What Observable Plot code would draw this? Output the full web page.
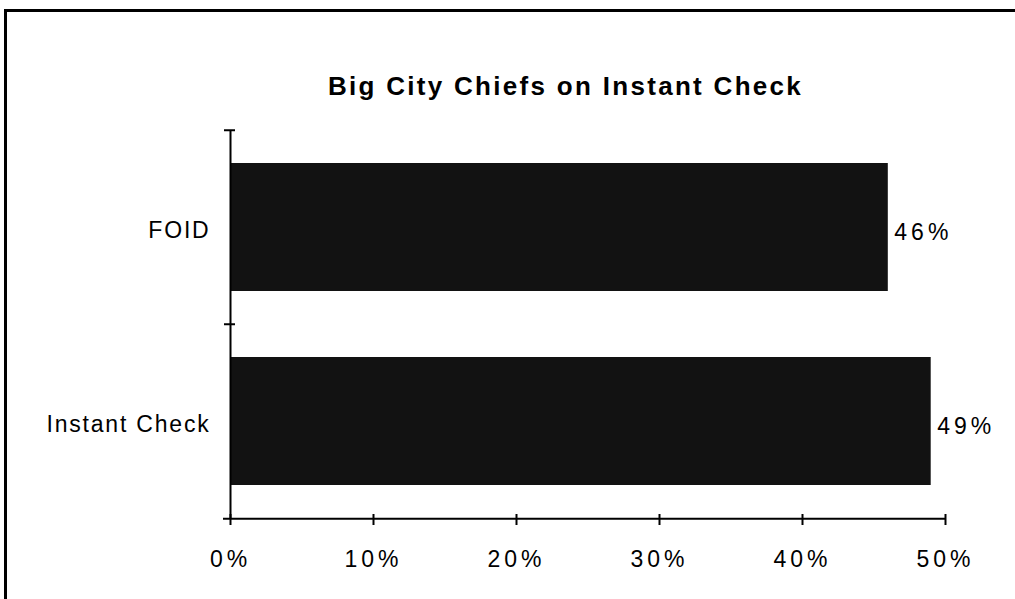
<!DOCTYPE html>
<html>
<head>
<meta charset="utf-8">
<script src="https://cdn.jsdelivr.net/npm/d3@7"></script>
<script src="https://cdn.jsdelivr.net/npm/@observablehq/plot@0.6"></script>
<style>
  html, body { margin: 0; padding: 0; background: #fff; overflow: hidden; }
  #wrap { position: relative; width: 1015px; height: 599px; overflow: hidden; }
  #border { position: absolute; left: 4px; top: 9px; width: 2000px; height: 2000px; border: 3px solid #000; box-sizing: border-box; }
  #title { position: absolute; left: 0; width: 1131px; top: 71px; text-align: center; line-height: 26px;
           font: bold 26px "Liberation Sans", Arial, sans-serif; letter-spacing: 2.3px; color: #000; }
  #chart { position: absolute; left: 0; top: 0; }
  #chart svg { background: transparent; }
  g[aria-label="x-axis tick label"] text,
  g[aria-label="text"] text { letter-spacing: 4px; }
  g[aria-label="y-axis tick label"] text { letter-spacing: 1.8px; }
</style>
</head>
<body>
<div id="wrap">
  <div id="border"></div>
  <div id="title">Big City Chiefs on Instant Check</div>
  <div id="chart"></div>
</div>
<script>
const categories = ["FOID", "Instant Check"];
const values = [0.46, 0.49];
const xTicks = [0, 0.1, 0.2, 0.3, 0.4, 0.5];

const data = categories.map((c, i) => ({category: c, value: values[i]}));

const W = 1015, H = 599, mT = 130, mB = 80, mL = 230, mR = 70;
const frameH = H - mT - mB;
const step = frameH / categories.length;
const fmt = d => `${Math.round(d * 100)}%`;

const chart = Plot.plot({
  width: W,
  height: H,
  marginTop: mT,
  marginBottom: mB,
  marginLeft: mL,
  marginRight: mR,
  style: {background: "transparent", fontFamily: "'Liberation Sans', Arial, sans-serif", color: "#000"},
  x: {domain: [0, 0.5], axis: null},
  y: {domain: categories, paddingInner: 0.34, paddingOuter: 0.17, axis: null},
  marks: [
    Plot.barX(data, {x: "value", y: "category", fill: "#121212"}),
    // y axis line
    Plot.ruleX([0], {stroke: "#000", strokeWidth: 2}),
    // x axis line (bottom edge of last band step)
    Plot.ruleY([categories[categories.length - 1]], {y: d => d, dy: step / 2, stroke: "#000", strokeWidth: 2, insetLeft: -7}),
    // y boundary ticks
    Plot.tickY(categories, {y: d => d, dy: -step / 2, stroke: "#000", strokeWidth: 2, insetLeft: -6, insetRight: (W - mL - mR) - 5}),
    // x ticks crossing the axis
    Plot.tickX(xTicks, {x: d => d, stroke: "#000", strokeWidth: 2, insetTop: frameH - 5, insetBottom: -6}),
    Plot.axisX({ticks: xTicks, tickSize: 0, tickPadding: 31, tickFormat: fmt, fontSize: 23, fill: "#000", label: null}),
    Plot.axisY({tickSize: 0, tickPadding: 20, fontSize: 23, dy: 3, fill: "#000", label: null}),
    Plot.text(data, {x: "value", y: "category", text: d => fmt(d.value), textAnchor: "start", dx: 6, dy: 5, fontSize: 23, fill: "#000"})
  ]
});
document.getElementById("chart").appendChild(chart);
</script>
</body>
</html>
